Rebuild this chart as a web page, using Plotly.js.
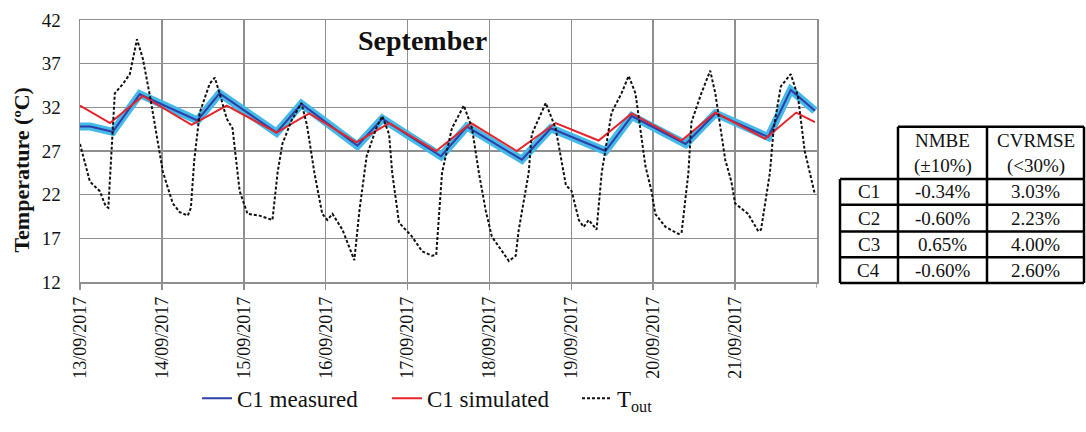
<!DOCTYPE html>
<html>
<head>
<meta charset="utf-8">
<script src="https://cdn.plot.ly/plotly-3.0.1.min.js"></script>
<style>html,body{margin:0;padding:0;background:#fff;}#chart{width:1086px;height:432px;}</style>
</head>
<body>
<div id="chart"></div>
<script>
// ---- data (hours since 13/09/2017 00:00) ----
const dayLabels = ["13/09/2017","14/09/2017","15/09/2017","16/09/2017","17/09/2017","18/09/2017","19/09/2017","20/09/2017","21/09/2017"];

const measHours = [0, 3, 9.6, 17.5, 34.4, 40.9, 57.6, 64.9, 81.3, 88.6, 105.8, 113.4, 129.5, 138, 154, 161.7, 177.5, 186.2, 201.7, 208.3, 215.4];
const measTemp  = [29.8, 29.8, 29.2, 33.5, 30.5, 33.6, 29.1, 32.4, 27.6, 30.7, 26.4, 29.8, 26.0, 29.6, 27.0, 31.0, 27.8, 31.3, 28.6, 34.0, 31.6];

const simHours = [0, 8.8, 18.4, 32.7, 43, 57.6, 67.2, 81, 90.6, 104.4, 114.6, 128, 139.4, 152, 161.7, 176.3, 186.2, 200.8, 209.9, 215.4];
const simTemp  = [32.2, 30.2, 33.3, 30.0, 32.2, 29.1, 31.3, 28.0, 30.2, 27.0, 30.2, 27.0, 30.2, 28.2, 31.3, 28.2, 31.4, 28.4, 31.4, 30.3];

const toutHours = [0, 2.9, 5.8, 7.5, 8.3, 10.2, 12.6, 14.6, 16.7, 18.4, 20.5, 23.4, 24.3, 27.2, 29.2, 31.6, 32.5, 33.5, 35.1, 38, 39.5, 41, 43, 44.7, 46.8, 49.1, 52.6, 56.4, 57.9, 59.3, 62, 64.9, 66.5, 68.7, 71, 72.5, 74, 76.9, 79.5, 80.4, 81.9, 83.3, 84, 86.8, 88.6, 90.6, 91.5, 93.5, 97.3, 100.3, 103.2, 104.4, 106.1, 109, 112.5, 114.9, 116.9, 118.9, 120.7, 125.7, 127.7, 128.6, 131.5, 132.4, 136.5, 139.4, 142.4, 144.1, 146.2, 147.6, 149.1, 151.4, 152.9, 155.8, 158.7, 160.8, 162.8, 165.7, 167.5, 168.6, 171.6, 175.4, 176.3, 178.3, 179.2, 182.1, 184.7, 186.2, 189.1, 190.9, 192, 195.8, 198.8, 199.6, 202.2, 203.3, 205.4, 208.3, 210.4, 212.4, 215.4];
const toutTemp  = [27.8, 23.5, 22.4, 20.7, 20.5, 33.6, 34.7, 35.8, 39.8, 37.6, 33.3, 27.0, 24.6, 21.0, 20.0, 19.6, 20.5, 26.0, 31.4, 34.7, 35.4, 33.5, 30.7, 29.6, 22.4, 19.8, 19.6, 19.1, 24.5, 27.8, 30.5, 32.5, 30.0, 24.5, 19.8, 19.1, 19.8, 18.0, 15.5, 14.5, 20.2, 24.5, 26.4, 29.6, 31.0, 28.9, 24.5, 18.8, 17.2, 15.5, 15.0, 15.1, 24.5, 29.6, 32.2, 29.6, 24.5, 20.2, 17.2, 14.4, 15.0, 18.0, 24.5, 28.9, 32.5, 29.6, 23.1, 22.4, 19.1, 18.3, 19.1, 18.0, 24.5, 31.4, 33.6, 35.6, 33.6, 25.3, 22.4, 19.8, 18.3, 17.5, 17.6, 24.5, 30.3, 33.6, 36.2, 33.6, 26.0, 23.5, 21.0, 19.8, 17.8, 18.0, 24.5, 29.6, 34.4, 35.8, 33.3, 27.0, 22.0];

const tableHeader = [["NMBE","(±10%)"],["CVRMSE","(<30%)"]];
const tableRows = ["C1","C2","C3","C4"];
const nmbe = ["-0.34%","-0.60%","0.65%","-0.60%"];
const cvrmse = ["3.03%","2.23%","4.00%","2.60%"];

// ---- layout geometry ----
const W = 1086, H = 432;
const L = 80, R = 817, T = 20, B = 295;
const px = x => (x - L) / (R - L);
const py = y => (B - y) / (B - T);
const FONT = "Liberation Serif, Times New Roman, serif";
const GRID = "#8f8f8f";

const traces = [
  {x: measHours, y: measTemp, mode: "lines", line: {color: "#45b9e8", width: 8}, showlegend: false, hoverinfo: "skip"},
  {x: measHours, y: measTemp, mode: "lines", name: "C1 measured", line: {color: "#2e3fa8", width: 2}},
  {x: simHours, y: simTemp, mode: "lines", name: "C1 simulated", line: {color: "#e8242b", width: 2}},
  {x: toutHours, y: toutTemp, mode: "lines", name: "T<sub>out</sub>", line: {color: "#111", width: 2, dash: "3px,2px"}}
];

const tickvals = dayLabels.map((d, i) => i * 24);
const ticktext = dayLabels.slice();

const shapes = [];
shapes.push({type: "line", xref: "x", yref: "paper", x0: dayLabels.length * 24, x1: dayLabels.length * 24, y0: 0, y1: -6 / (B - T), line: {color: GRID, width: 1.5}});
const ln = (x0, y0, x1, y1) => shapes.push({type: "line", xref: "paper", yref: "paper", x0: px(x0), y0: py(y0), x1: px(x1), y1: py(y1), line: {color: "#000", width: 2.5}});
const cx = [840, 898, 987, 1084];
const ry = [132, 187, 214, 242, 269, 296];
ln(cx[1], ry[0], cx[3], ry[0]);
ln(cx[1], ry[0], cx[1], ry[1]);
ln(cx[2], ry[0], cx[2], ry[1]);
ln(cx[3], ry[0], cx[3], ry[1]);
for (let r = 1; r < ry.length; r++) ln(cx[0], ry[r], cx[3], ry[r]);
for (let c = 0; c < cx.length; c++) ln(cx[c], ry[1], cx[c], ry[ry.length - 1]);

const annotations = [];
const txt = (x, y, text, opts) => annotations.push(Object.assign({xref: "paper", yref: "paper", x: px(x), y: py(y), text: text, showarrow: false, xanchor: "center", yanchor: "middle", font: {family: FONT, size: 19, color: "#111"}}, opts || {}));
tableHeader.forEach((h, i) => {
  const xc = (cx[i + 1] + cx[i + 2]) / 2;
  txt(xc, 147, h[0]);
  txt(xc, 173, h[1]);
});
tableRows.forEach((r, i) => {
  const yc = (ry[i + 1] + ry[i + 2]) / 2;
  txt((cx[0] + cx[1]) / 2, yc, r);
  txt((cx[1] + cx[2]) / 2, yc, nmbe[i]);
  txt((cx[2] + cx[3]) / 2, yc, cvrmse[i]);
});
txt(422, 42, "<b>September</b>", {font: {family: FONT, size: 28, color: "#111"}});
txt(22, 177, "<b>Temperature (ºC)</b>", {textangle: -90, font: {family: FONT, size: 22, color: "#111"}});

const layout = {
  width: W, height: H,
  margin: {l: L, r: W - R, t: T, b: H - B, pad: 0},
  paper_bgcolor: "#fff", plot_bgcolor: "#fff",
  font: {family: FONT, color: "#111"},
  showlegend: true,
  legend: {orientation: "h", x: px(197), xanchor: "left", y: py(417), yanchor: "middle", font: {family: FONT, size: 23, color: "#111"}, bgcolor: "rgba(0,0,0,0)", itemwidth: 30, entrywidth: 145, entrywidthmode: "pixels"},
  xaxis: {range: [0, 216], tickmode: "array", tickvals: tickvals, ticktext: ticktext, tickangle: -90,
    showgrid: true, gridcolor: GRID, gridwidth: 1.5, zeroline: false,
    showline: true, mirror: true, linecolor: GRID, linewidth: 1.5,
    ticks: "outside", ticklen: 6, tickcolor: GRID, tickwidth: 1.5,
    tickfont: {family: FONT, size: 18, color: "#111"}},
  yaxis: {range: [12, 42], tickmode: "array", tickvals: [12, 17, 22, 27, 32, 37, 42],
    showgrid: true, gridcolor: GRID, gridwidth: 1.5, zeroline: false,
    showline: true, mirror: true, linecolor: GRID, linewidth: 1.5,
    ticks: "", ticklabelstandoff: 14,
    tickfont: {family: FONT, size: 19, color: "#111"}},
  shapes: shapes,
  annotations: annotations
};

Plotly.newPlot("chart", traces, layout, {staticPlot: true, displayModeBar: false});
</script>
</body>
</html>
